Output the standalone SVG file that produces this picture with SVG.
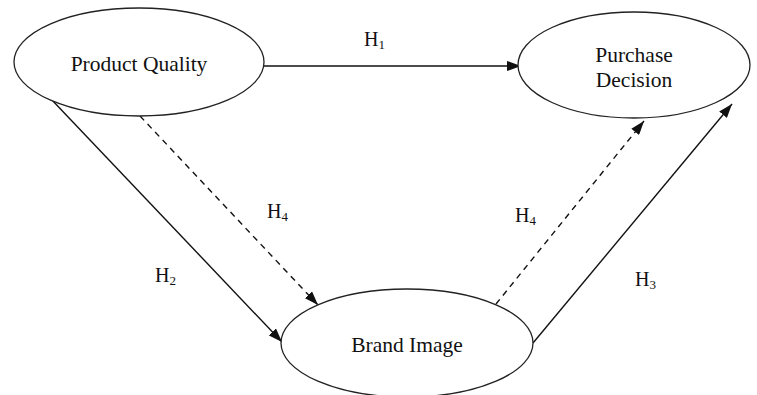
<svg xmlns="http://www.w3.org/2000/svg" width="757" height="395" viewBox="0 0 757 395">
<style>
.node{fill:#fff;stroke:#222;stroke-width:1.3}
.lbl{font-family:"Liberation Serif","Times New Roman",serif;font-size:21.5px;fill:#111;text-anchor:middle}
.hl{font-family:"Liberation Serif","Times New Roman",serif;font-size:20px;fill:#111}
.sub{font-size:13px}
.edge{stroke:#111;stroke-width:1.4;fill:none}
.dash{stroke-dasharray:6,5}
</style>
<defs>
<marker id="arr" viewBox="0 0 14 10" refX="14" refY="5" markerWidth="14" markerHeight="10" markerUnits="userSpaceOnUse" orient="auto">
<path d="M0,0 L14,5 L0,10 Z" fill="#111"/>
</marker>
</defs>
<rect width="757" height="395" fill="#fff"/>
<g id="connectors">
<line class="edge" x1="264" y1="66" x2="521" y2="66" marker-end="url(#arr)"/>
<line class="edge" x1="51" y1="99" x2="282" y2="342" marker-end="url(#arr)"/>
<line class="edge dash" x1="140" y1="116" x2="318" y2="305" marker-end="url(#arr)"/>
<line class="edge dash" x1="496" y1="304" x2="644" y2="121" marker-end="url(#arr)"/>
<line class="edge" x1="533" y1="343" x2="732" y2="104" marker-end="url(#arr)"/>
<text class="hl" x="364" y="46">H<tspan class="sub" dy="3">1</tspan></text>
<text class="hl" x="267" y="218">H<tspan class="sub" dy="3">4</tspan></text>
<text class="hl" x="155" y="282">H<tspan class="sub" dy="3">2</tspan></text>
<text class="hl" x="515" y="222">H<tspan class="sub" dy="3">4</tspan></text>
<text class="hl" x="635" y="286">H<tspan class="sub" dy="3">3</tspan></text>
</g>
<g id="product-quality">
<ellipse class="node" cx="139" cy="62" rx="125" ry="54"/>
<text class="lbl" x="139" y="71">Product Quality</text>
</g>
<g id="purchase-decision">
<ellipse class="node" cx="634" cy="65" rx="116" ry="53"/>
<text class="lbl" x="634" y="62">Purchase</text>
<text class="lbl" x="634" y="87">Decision</text>
</g>
<g id="brand-image">
<ellipse class="node" cx="407" cy="343" rx="126" ry="54"/>
<text class="lbl" x="407" y="352">Brand Image</text>
</g>
</svg>
